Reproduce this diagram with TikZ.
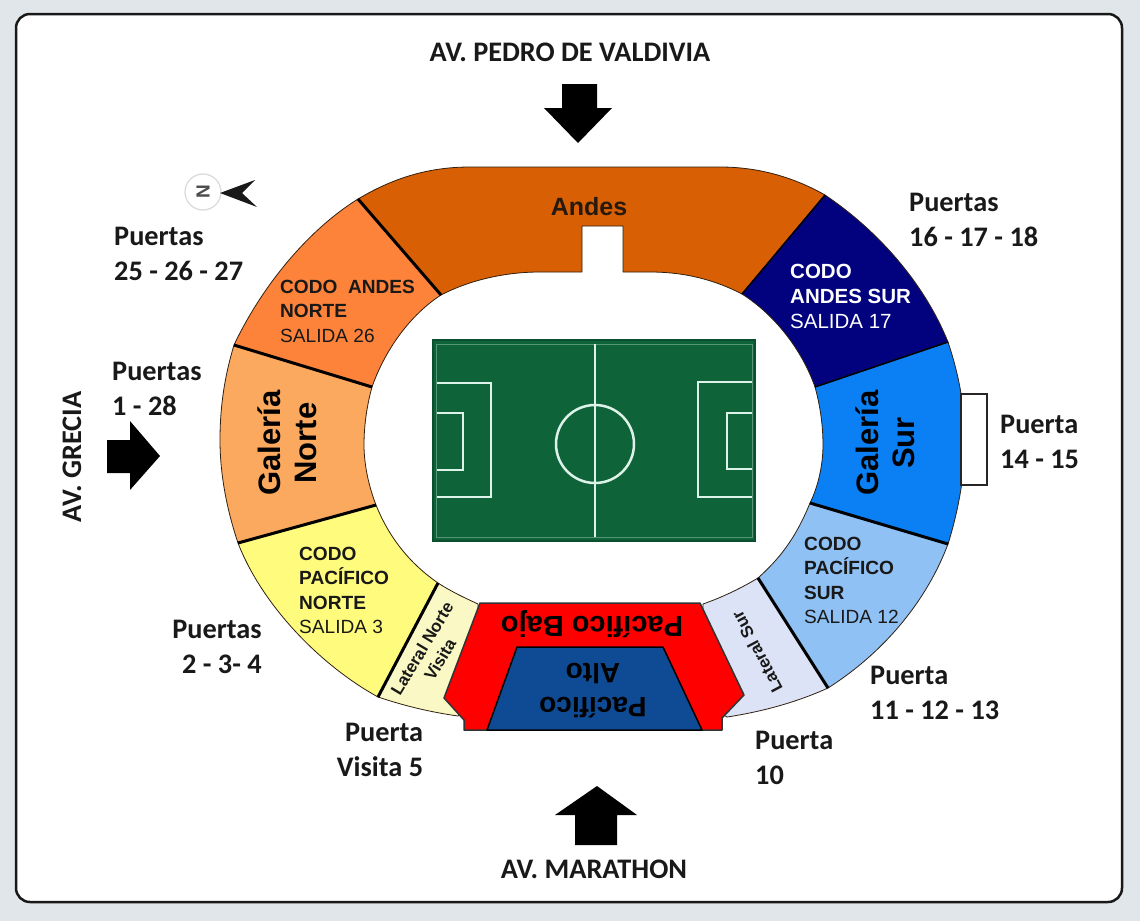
\documentclass[tikz,border=0pt]{standalone}
\usepackage{fontspec}
\setmainfont{Carlito}
\setsansfont{Liberation Sans}
\usetikzlibrary{positioning}
\definecolor{pagegray}{HTML}{E1E6EA}
\definecolor{andes}{HTML}{D85F04}
\definecolor{codoan}{HTML}{FD833A}
\definecolor{galnorte}{HTML}{FBA95E}
\definecolor{codopn}{HTML}{FFFB7C}
\definecolor{latnorte}{HTML}{FAF8C4}
\definecolor{latsur}{HTML}{DDE3F6}
\definecolor{codops}{HTML}{8FC1F4}
\definecolor{galsur}{HTML}{0A80F4}
\definecolor{codoas}{HTML}{02027F}
\definecolor{pacalto}{HTML}{0F4B94}
\definecolor{cancha}{HTML}{0F6339}
\definecolor{raya}{HTML}{DDF2E8}
\tikzset{
  section/.style={draw=black!75!brown, line width=0.8pt, line join=round},
  divider/.style={draw=black, line width=3pt},
  fieldline/.style={draw=raya, line width=2.5pt},
  bigarrow/.style={fill=black, draw=none},
  street/.style={font=\fontsize{28.3}{32}\selectfont\bfseries, text=black!90},
  gate/.style={font=\fontsize{28.3}{34.5}\selectfont\bfseries, text=black!90, align=left, inner sep=0pt},
  codo/.style={font=\sffamily\fontsize{19.1}{24.5}\selectfont, align=left, inner sep=0pt, text=black!90},
  tribuna/.style={font=\sffamily\bfseries\fontsize{31}{36}\selectfont, align=center, inner sep=0pt, text=black},
  lateral/.style={font=\sffamily\bfseries\fontsize{17}{21}\selectfont, align=center, inner sep=0pt, text=black!90},
}
\begin{document}
\begin{tikzpicture}[x=1pt, y=-1pt]
  \useasboundingbox (0,0) rectangle (1140,921);
  % Frame
  \fill[pagegray] (0,0) rectangle (1140,921);
  \draw[fill=white, draw=black!90, line width=2.5pt, rounded corners=14pt] (16,14) rectangle (1122,902);
  % Corners of the sections
  \coordinate (tl) at (470,167);
  \coordinate (tr) at (720,167);
  \coordinate (o1) at (825,195);
  \coordinate (o2) at (948,342);
  \coordinate (o3) at (948,544);
  \coordinate (o4) at (828,688);
  \coordinate (o5) at (727,717);
  \coordinate (o6) at (458,716);
  \coordinate (o7) at (378,697);
  \coordinate (o8) at (238,543);
  \coordinate (o9) at (234,345);
  \coordinate (o10) at (358,199);
  \coordinate (i1) at (742,294);
  \coordinate (i2) at (815,387);
  \coordinate (i3) at (810,503);
  \coordinate (i4) at (758,578);
  \coordinate (i5) at (703,604);
  \coordinate (i6) at (478,604);
  \coordinate (i7) at (438,583);
  \coordinate (i8) at (376,505);
  \coordinate (i9) at (372,387);
  \coordinate (i10) at (441,295);
  % Sections
  \draw[section, fill=andes] (o10) .. controls (390,180) and (425,167) .. (tl) -- (tr)
    .. controls (760,167) and (795,178) .. (o1) -- (i1)
    .. controls (715,280) and (685,272) .. (650,272) -- (623,272) -- (623,226) -- (582,226) -- (582,272) -- (540,272)
    .. controls (505,272) and (470,280) .. (i10) -- cycle;
  \draw[section, fill=codoas] (o1) .. controls (880,232) and (925,285) .. (o2) -- (i2)
    .. controls (802,350) and (775,315) .. (i1) -- cycle;
  \draw[section, fill=galsur] (o2) .. controls (958,372) and (965,405) .. (965,440)
    .. controls (965,475) and (958,512) .. (o3) -- (i3)
    .. controls (818,487) and (823,465) .. (823,445) .. controls (823,425) and (820,405) .. (i2) -- cycle;
  \draw[section, fill=codops] (o3) .. controls (925,605) and (880,655) .. (o4) -- (i4)
    .. controls (778,560) and (795,540) .. (i3) -- cycle;
  \draw[section, fill=latsur] (o4) .. controls (795,703) and (760,712) .. (o5) -- (700,700) -- (i5)
    .. controls (720,598) and (738,590) .. (i4) -- cycle;
  \draw[section, fill=latnorte] (o7) .. controls (405,706) and (430,712) .. (o6) -- (480,700) -- (i6)
    .. controls (465,598) and (452,592) .. (i7) -- cycle;
  \draw[section, fill=codopn] (o8) .. controls (262,605) and (320,665) .. (o7) -- (i7)
    .. controls (412,565) and (390,540) .. (i8) -- cycle;
  \draw[section, fill=galnorte] (o9) .. controls (225,375) and (220,405) .. (220,440)
    .. controls (220,475) and (227,510) .. (o8) -- (i8)
    .. controls (369,487) and (364,465) .. (364,445) .. controls (364,425) and (367,405) .. (i9) -- cycle;
  \draw[section, fill=codoan] (o10) .. controls (305,232) and (260,290) .. (o9) -- (i9)
    .. controls (385,350) and (410,315) .. (i10) -- cycle;
  % Dividers
  \draw[divider] (o10) -- (i10);
  \draw[divider] (o9) -- (i9);
  \draw[divider] (o8) -- (i8);
  \draw[divider] (o7) -- (i7);
  \draw[divider] (o4) -- (i4);
  \draw[divider] (o3) -- (i3);
  \draw[draw=black, line width=1.5pt] (o2) -- (i2);
  \draw[draw=black, line width=1.5pt] (o1) -- (i1);
  % Pacifico
  \draw[fill=red, draw=black!80, line width=1.5pt, line join=round] (480,603) -- (700,603) -- (744,695) -- (722,718) -- (722,730)
    -- (464,730) -- (464,720) -- (444,698) -- cycle;
  \draw[fill=pacalto, draw=black, line width=1.5pt, line join=round] (517,647) -- (663,647) -- (702,730) -- (487,730) -- cycle;
  % Gate
  \draw[fill=white, draw=black!85, line width=1.2pt] (961,394) rectangle (987,485);
  % Field
  \draw[fill=cancha, draw=cancha!80!black, line width=1.2pt] (433,340) rectangle (755,541);
  \draw[draw=raya!35!cancha, line width=0.8pt] (436,344) rectangle (752,537);
  \draw[fieldline] (595,344) -- (595,537);
  \draw[fieldline] (595,444) circle (39);
  \draw[fieldline] (437,383) -- (491,383) -- (491,497) -- (437,497);
  \draw[fieldline] (437,413) -- (463,413) -- (463,470) -- (437,470);
  \draw[fieldline] (752,382) -- (698,382) -- (698,497) -- (752,497);
  \draw[fieldline] (752,413) -- (727,413) -- (727,469) -- (752,469);
  % Arrows
  \fill[bigarrow] (562,84) -- (597,84) -- (597,108) -- (612,108) -- (578,143) -- (544,108) -- (562,108) -- cycle;
  \fill[bigarrow] (107,440) -- (130,440) -- (130,421) -- (160,456) -- (130,490) -- (130,473) -- (107,473) -- cycle;
  \fill[bigarrow] (597,786) -- (637,815) -- (617,815) -- (617,845) -- (575,845) -- (575,815) -- (555,815) -- cycle;
  % Compass
  \node (compass) [circle, draw=black!15, line width=1.2pt, fill=white, minimum size=36pt, inner sep=0pt, rotate=90,
    font=\sffamily\bfseries\fontsize{19}{19}\selectfont, text=black!70] at (203,192) {N};
  \fill[black!90] (220,193) -- (255,180) -- (242,193) -- (257,207) -- cycle;
  % Nodes
  \node (pedro) [street] at (570,52) {AV. PEDRO DE VALDIVIA};
  \node (marathon) [street] at (594,869) {AV. MARATHON};
  \node (grecia) [street, rotate=90] at (72,457) {AV. GRECIA};
  \node (p25) [gate, anchor=west] at (114,254) {Puertas\\25 - 26 - 27};
  \node (p1) [gate, anchor=west] at (112,389) {Puertas\\1 - 28};
  \node (p2) [gate, align=right] at (217,647) {Puertas\\2 - 3- 4};
  \node (p5) [gate, align=right] at (380,750) {Puerta\\Visita 5};
  \node (p10) [gate, anchor=west] at (755,758) {Puerta\\10};
  \node (p11) [gate, anchor=west] at (870,693) {Puerta\\11 - 12 - 13};
  \node (p14) [gate, anchor=west] at (1000,442) {Puerta\\14 - 15};
  \node (p16) [gate, anchor=west] at (909,220) {Puertas\\16 - 17 - 18};
  \node (andesT) [tribuna, font=\sffamily\bfseries\fontsize{25}{30}\selectfont, text=black!80!brown] at (589,207) {Andes};
  \node (galN) [tribuna, rotate=90] at (287,443) {Galería\\Norte};
  \node (galS) [tribuna, rotate=90] at (885,443) {Galería\\Sur};
  \node (bajo) [tribuna, font=\sffamily\bfseries\fontsize{29}{36}\selectfont, rotate=180] at (592,624) {Pacífico Bajo};
  \node (alto) [tribuna, font=\sffamily\bfseries\fontsize{28}{34}\selectfont, rotate=180] at (593,691) {Pacífico\\Alto};
  \node (codoAN) [codo, anchor=north west] at (280,279.5) {\textbf{CODO\ \ ANDES}\\\textbf{NORTE}\\SALIDA 26};
  \node (codoPN) [codo, anchor=north west] at (299,546.5) {\textbf{CODO}\\\textbf{PACÍFICO}\\\textbf{NORTE}\\SALIDA 3};
  \node (codoPS) [codo, anchor=north west] at (804,536.5) {\textbf{CODO}\\\textbf{PACÍFICO}\\\textbf{SUR}\\SALIDA 12};
  \node (codoAS) [codo, font=\sffamily\fontsize{20.5}{25}\selectfont, anchor=north west, text=white] at (790,264) {\textbf{CODO}\\\textbf{ANDES SUR}\\SALIDA 17};
  \node (latN) [lateral, rotate=59] at (431,654) {Lateral Norte\\Visita};
  \node (latS) [lateral, rotate=118] at (757,652) {Lateral Sur};
\end{tikzpicture}
\end{document}
